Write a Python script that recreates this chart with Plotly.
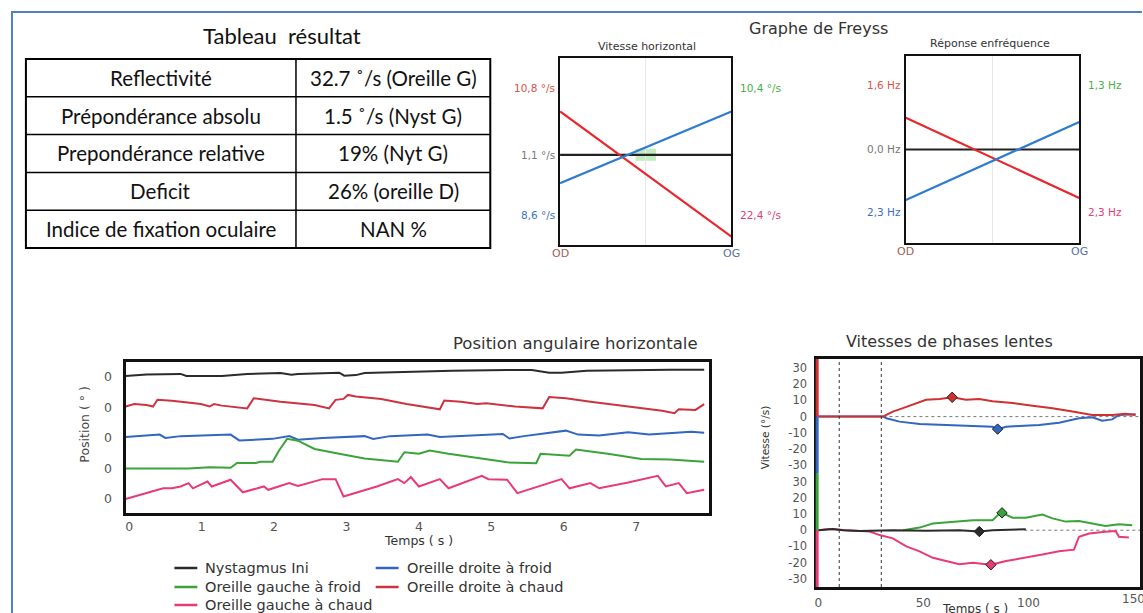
import numpy as np
import plotly.graph_objects as go

W, H = 1143, 613
def X(p):
    return p / W
def Y(p):
    return 1 - p / H

# ---------------- data ----------------
table_title = "Tableau  résultat"
table_labels = ["Reflectivité", "Prépondérance absolu", "Prepondérance relative",
                "Deficit", "Indice de fixation oculaire"]
table_values = ["32.7 ˚/s (Oreille G)", "1.5 ˚/s (Nyst G)", "19% (Nyt G)",
                "26% (oreille D)", "NAN %"]

freyss_title = "Graphe de Freyss"
freyss_x = [0, 1]
freyss_xlabels = ["OD", "OG"]

vh_title = "Vitesse horizontal"
vh_red = [71.4, 4.5]
vh_blue = [33.0, 71.4]
vh_black = [48.2, 48.2]
vh_left_labels = ["10,8 °/s", "1,1 °/s", "8,6 °/s"]
vh_left_pos = [84, 48.2, 16]
vh_right_labels = ["10,4 °/s", "22,4 °/s"]
vh_right_pos = [84, 16]

rf_title = "Réponse enfréquence"
rf_red = [67.0, 24.1]
rf_blue = [23.0, 64.7]
rf_black = [50, 50]
rf_left_labels = ["1,6 Hz", "0,0 Hz", "2,3 Hz"]
rf_left_pos = [84.5, 50, 16.6]
rf_right_labels = ["1,3 Hz", "2,3 Hz"]
rf_right_pos = [84.5, 16.6]

# Position angulaire horizontale (time in s, value relative to each trace's zero)
pos_title = "Position angulaire horizontale"
pos_xticks = [0, 1, 2, 3, 4, 5, 6, 7]
nyst_t = [-0.05, 0.24, 0.71, 0.79, 1.28, 1.63, 2.09, 2.24, 2.33, 2.90, 2.97, 3.13, 3.25,
          3.83, 4.46, 5.22, 5.56, 5.80, 5.97, 6.32, 6.78, 7.47, 7.94]
nyst_v = [0.03, 0.08, 0.10, 0.03, 0.03, 0.10, 0.13, 0.07, 0.10, 0.14, 0.04, 0.06, 0.13,
          0.17, 0.20, 0.23, 0.23, 0.14, 0.14, 0.20, 0.22, 0.24, 0.24]
odc_t = [-0.05, 0.07, 0.24, 0.33, 0.39, 0.59, 0.99, 1.11, 1.17, 1.28, 1.63, 1.72, 2.09, 2.33,
         2.56, 2.76, 2.85, 2.96, 3.02, 3.13, 3.48, 3.83, 4.18, 4.29, 4.35, 4.58, 4.81, 4.93,
         5.33, 5.62, 5.71, 5.80, 6.03, 6.37, 6.89, 7.36, 7.53, 7.59, 7.82, 7.94]
odc_v = [0.03, 0.11, 0.08, 0.03, 0.25, 0.22, 0.11, 0.03, 0.11, 0.06, -0.03, 0.30, 0.19, 0.14,
         0.08, -0.03, 0.25, 0.28, 0.41, 0.36, 0.28, 0.11, -0.03, -0.06, 0.23, 0.19, 0.11, 0.14,
         0.03, -0.01, -0.03, 0.34, 0.30, 0.19, 0.03, -0.11, -0.19, -0.06, -0.08, 0.11]
odf_t = [-0.05, 0.24, 0.42, 0.50, 0.71, 1.40, 1.52, 1.98, 2.21, 2.33, 2.67, 3.25, 3.37, 3.60,
         4.12, 4.29, 5.16, 5.25, 5.45, 6.03, 6.20, 6.49, 6.89, 7.18, 7.76, 7.94]
odf_v = [0.03, 0.08, 0.11, 0.0, 0.06, 0.11, -0.08, -0.03, 0.06, -0.06, 0.0, 0.06, -0.03, 0.06,
         0.11, 0.03, 0.13, -0.02, 0.06, 0.24, 0.11, 0.08, 0.19, 0.11, 0.20, 0.17]
ogf_t = [-0.05, 0.82, 1.11, 1.40, 1.49, 1.75, 1.81, 1.98, 2.07, 2.18, 2.33, 2.56, 2.90, 3.25,
         3.71, 3.80, 4.00, 4.15, 4.41, 4.87, 5.22, 5.62, 5.68, 6.08, 6.17, 6.61, 7.07, 7.47, 7.94]
ogf_v = [0.0, 0.0, 0.04, 0.02, 0.18, 0.18, 0.22, 0.22, 0.59, 0.97, 0.91, 0.64, 0.48, 0.33,
         0.22, 0.53, 0.48, 0.59, 0.48, 0.31, 0.20, 0.17, 0.48, 0.42, 0.62, 0.48, 0.31, 0.29, 0.22]
ogc_t = [-0.05, 0.24, 0.47, 0.59, 0.71, 0.82, 0.88, 1.08, 1.14, 1.40, 1.57, 1.86, 1.92, 2.21,
         2.33, 2.67, 2.85, 2.96, 3.42, 3.71, 3.80, 3.89, 4.00, 4.29, 4.41, 4.87, 4.96, 5.22,
         5.36, 5.97, 6.08, 6.37, 6.49, 6.89, 7.30, 7.41, 7.59, 7.70, 7.94]
ogc_v = [0.0, 0.19, 0.35, 0.35, 0.41, 0.52, 0.35, 0.57, 0.41, 0.63, 0.22, 0.41, 0.30, 0.52,
         0.43, 0.65, 0.65, 0.08, 0.41, 0.65, 0.52, 0.72, 0.41, 0.65, 0.35, 0.76, 0.65, 0.63,
         0.19, 0.65, 0.35, 0.52, 0.35, 0.54, 0.76, 0.41, 0.52, 0.19, 0.30]

# Vitesses de phases lentes (time in s, velocity in °/s)
vit_title = "Vitesses de phases lentes"
vit_xticks = [0, 50, 100, 150]
vit_yticks = [-30, -20, -10, 0, 10, 20, 30]
vodc_t = [0, 31, 32.4, 35.5, 40.3, 46.6, 51.3, 57.7, 63.7, 70.3, 76.6, 82.9, 92.4, 101.9,
          111.4, 120.9, 130.3, 139.8, 146.1, 150.9]
vodc_v = [0, 0, 1, 3.1, 5.2, 8.4, 10.4, 10.9, 11.9, 10.4, 10.9, 9.4, 8.4, 6.7, 5.2, 3.1,
          1, 1, 1.7, 1]
vodf_t = [0, 31, 32.4, 38.7, 48.2, 60.8, 73.5, 82.9, 85.3, 89.3, 95.6, 105.1, 114.5, 124,
          130.3, 135, 139.8, 143, 150.9]
vodf_v = [0, 0, -1, -3.1, -4.6, -5.2, -5.8, -6.3, -7.7, -6.3, -5.8, -5.2, -3.8, -1, -0.4,
          -2.5, -1.7, 1, 1.5]
vogf_t = [40.3, 48.2, 54.5, 60.8, 67.1, 73.5, 82.9, 86.1, 87.4, 92.4, 98.7, 106.6, 111.4,
          117.7, 124, 130.3, 136.6, 143, 149.3]
vogf_v = [0, 1.6, 4.1, 4.7, 5.1, 6.1, 6.1, 10.1, 10.7, 7.7, 7.7, 9.7, 7.3, 5.3, 5.7, 4.1,
          2.6, 3.7, 3]
vnyst_t = [0, 3.9, 7, 11.8, 19.7, 35.5, 51.3, 67.1, 76.6, 82.9, 92.4, 98.7]
vnyst_v = [0, 0.5, 0.8, 0, -0.5, 0, -0.3, 0, -0.8, 0, 0.5, 0.6]
vogc_t = [0, 5.5, 13.4, 24.5, 29.2, 35.5, 41.9, 48.2, 54.5, 60.8, 67.1, 73.5, 82.1, 89.3,
          98.7, 106.6, 114.5, 121.6, 124, 128.8, 136.6, 141.4, 143, 147.7]
vogc_v = [0, 0.8, 0, -0.8, -3, -5, -10, -13, -17, -19, -21, -20, -21.3, -19, -17, -15, -13,
          -12, -4, -2, -1, -0.5, -4, -4.5]
vit_marks_t = [10, 30]

legend_names = ["Nystagmus Ini", "Oreille droite à froid", "Oreille gauche à froid",
                "Oreille droite à chaud", "Oreille gauche à chaud"]

# ---------------- styles ----------------
C_NYST = "#2b2b2b"
C_ODF = "#3366c0"
C_OGF = "#3aa33a"
C_ODC = "#cc3340"
C_OGC = "#ea3a72"
FONT = "DejaVu Sans"
POS_STEP = 1.0          # spacing between trace baselines
VIT_UP = 70             # offset of the upper panel of the velocity chart

fig = go.Figure()

# ---- Freyss: vitesse horizontale (x, y) ----
for ys, c in [(vh_black, "#222"), (vh_red, "#e8262b"), (vh_blue, "#2f7bd0")]:
    fig.add_trace(go.Scatter(x=freyss_x, y=ys, mode="lines", line=dict(color=c, width=2.2),
                             xaxis="x", yaxis="y", showlegend=False, hoverinfo="skip"))
# ---- Freyss: réponse en fréquence (x2, y2) ----
for ys, c in [(rf_black, "#222"), (rf_red, "#e8262b"), (rf_blue, "#2f7bd0")]:
    fig.add_trace(go.Scatter(x=freyss_x, y=ys, mode="lines", line=dict(color=c, width=2.2),
                             xaxis="x2", yaxis="y2", showlegend=False, hoverinfo="skip"))

# ---- Position angulaire (x3, y3) ----
pos_series = [(nyst_t, nyst_v, C_NYST, 4), (odc_t, odc_v, C_ODC, 3), (odf_t, odf_v, C_ODF, 2),
              (ogf_t, ogf_v, C_OGF, 1), (ogc_t, ogc_v, C_OGC, 0)]
for t, v, c, k in pos_series:
    fig.add_trace(go.Scatter(x=t, y=np.array(v) + k * POS_STEP, mode="lines",
                             line=dict(color=c, width=2), xaxis="x3", yaxis="y3",
                             showlegend=False, hoverinfo="skip"))

# ---- Vitesses de phases lentes (x4, y4) ----
vit_series = [(vodf_t, vodf_v, C_ODF, VIT_UP, "min"), (vodc_t, vodc_v, "#d03030", VIT_UP, "max"),
              (vogf_t, vogf_v, C_OGF, 0, "max"), (vogc_t, vogc_v, C_OGC, 0, "min"),
              (vnyst_t, vnyst_v, C_NYST, 0, "min")]
for t, v, c, off, kind in vit_series:
    va = np.array(v)
    fig.add_trace(go.Scatter(x=t, y=va + off, mode="lines", line=dict(color=c, width=2),
                             xaxis="x4", yaxis="y4", showlegend=False, hoverinfo="skip"))
    i = int(np.argmax(va)) if kind == "max" else int(np.argmin(va))
    fig.add_trace(go.Scatter(x=[t[i]], y=[va[i] + off], mode="markers",
                             marker=dict(symbol="diamond", size=8, color=c,
                                         line=dict(color="#202020", width=1)),
                             xaxis="x4", yaxis="y4", showlegend=False, hoverinfo="skip"))

shapes = []
annotations = []

def ann(text, x, y, size=12, color="#222", xanchor="center", yanchor="middle",
        family=FONT, textangle=0, xref="paper", yref="paper", **kw):
    if xref == "paper":
        x = X(x)
    if yref == "paper":
        y = Y(y)
    annotations.append(dict(text=text, x=x, y=y, xref=xref, yref=yref, showarrow=False,
                            xanchor=xanchor, yanchor=yanchor, textangle=textangle,
                            font=dict(family=family, size=size, color=color), **kw))

def pline(x0, y0, x1, y1, color="black", width=2, dash=None, layer="above"):
    shapes.append(dict(type="line", xref="paper", yref="paper", x0=X(x0), y0=Y(y0),
                       x1=X(x1), y1=Y(y1), layer=layer,
                       line=dict(color=color, width=width, dash=dash)))

# ---- frame ----
pline(8, 12, 1143, 12, color="#4f81bd", width=2)
pline(9, 12, 9, 613, color="#4f81bd", width=2)

# ---- table ----
TL, TR, TD, TT = 23, 489, 294, 59
row_h = 37.8
ann(table_title, 280, 36, size=22, family="Lato", color="#111")
shapes.append(dict(type="rect", xref="paper", yref="paper", x0=X(TL), x1=X(TR), y0=Y(TT),
                   y1=Y(TT + row_h * len(table_labels)), line=dict(color="black", width=2)))
pline(TD, TT, TD, TT + row_h * len(table_labels), width=1.5)
for i, (lab, val) in enumerate(zip(table_labels, table_values)):
    if i > 0:
        pline(TL, TT + row_h * i, TR, TT + row_h * i, width=1.5)
    yc = TT + row_h * (i + 0.5)
    ann(lab, (TL + TD) / 2, yc, size=20.5, family="Lato", color="#111")
    ann(val, (TD + TR) / 2, yc, size=20.5, family="Lato", color="#111")

# ---- Freyss annotations ----
ann(freyss_title, 818, 29, size=16, color="#333")
ann(vh_title, 646, 46, size=11, color="#333")
ann(rf_title, 990, 44, size=11, color="#333")
left_cols = ["#e0504a", "#777", "#3a6fc4"]
right_cols = ["#4aae4a", "#e0407a"]
for xa, ya, ll, lp, rl, rp in [("x", "y", vh_left_labels, vh_left_pos, vh_right_labels, vh_right_pos),
                                ("x2", "y2", rf_left_labels, rf_left_pos, rf_right_labels, rf_right_pos)]:
    for lab, p, c in zip(ll, lp, left_cols):
        ann(lab, 0, p, size=10.5, color=c, xanchor="right", xref=xa, yref=ya, xshift=-3)
    for lab, p, c in zip(rl, rp, right_cols):
        ann(lab, 1, p, size=10.5, color=c, xanchor="left", xref=xa, yref=ya, xshift=7)
    for xv, lab, c in zip(freyss_x, freyss_xlabels, ["#a0605a", "#5a70a0"]):
        ann(lab, xv, -0.045, size=11, color=c, xref=xa, yref=ya + " domain", yanchor="middle")
shapes.append(dict(type="rect", xref="x", yref="y", x0=0.44, x1=0.56, y0=45, y1=51.5,
                   fillcolor="rgba(120,210,120,0.45)", line=dict(width=0), layer="below"))

# ---- Position chart annotations ----
ann(pos_title, 575, 343, size=16.5, color="#333")
ann("Temps ( s )", 417, 540, size=12.5, color="#333")
ann("Position ( ° )", 81, 424, size=12.5, color="#444", textangle=-90)
leg_rows = [568, 587, 605]
leg_layout = [(0, 0), (1, 0), (0, 1), (1, 1), (0, 2)]
leg_cols = [C_NYST, C_ODF, C_OGF, C_ODC, C_OGC]
for name, (col, row), c in zip(legend_names, leg_layout, leg_cols):
    x0 = 172 if col == 0 else 374
    yy = leg_rows[row]
    pline(x0, yy, x0 + 23, yy, color=c, width=2.5)
    ann(name, x0 + 29, yy, size=14.5, color="#333", xanchor="left")

# ---- Vitesses annotations ----
ann(vit_title, 950, 341, size=16, color="#333")
ann("Temps ( s )", 975, 609, size=12, color="#333")
ann("Vitesse (°/s)", 765, 437, size=10.5, color="#333", textangle=-90)
ann(str(vit_xticks[-1]), vit_xticks[-1], 0, size=12, color="#555", xref="x4",
    yref="y4 domain", yanchor="top", yshift=-3)
for tm in vit_marks_t:
    shapes.append(dict(type="line", xref="x4", yref="y4 domain", x0=tm, x1=tm, y0=0, y1=1,
                       line=dict(color="#333", width=1, dash="dot")))
shapes.append(dict(type="line", xref="x4", yref="y4", x0=31, x1=153, y0=VIT_UP, y1=VIT_UP,
                   line=dict(color="#777", width=1, dash="dot"), layer="below"))
shapes.append(dict(type="line", xref="x4", yref="y4", x0=98, x1=153, y0=0, y1=0,
                   line=dict(color="#777", width=1, dash="dot"), layer="below"))
for y0, y1, c in [(VIT_UP, 105.5, "#d03030"), (35, VIT_UP, C_ODF), (0, 35, C_OGF), (-35, 0, C_OGC)]:
    shapes.append(dict(type="line", xref="x4 domain", yref="y4", x0=0, x1=0, y0=y0, y1=y1,
                       line=dict(color=c, width=3), layer="above"))

vit_tickvals = list(vit_yticks) + [v + VIT_UP for v in vit_yticks]
vit_ticktext = [str(v) for v in vit_yticks] * 2

axis_common = dict(showgrid=False, zeroline=False, showline=True, mirror=True,
                   linecolor="#111", fixedrange=True)

fig.update_layout(
    width=W, height=613, autosize=False,
    margin=dict(l=0, r=0, t=0, b=0),
    paper_bgcolor="white", plot_bgcolor="white",
    showlegend=False,
    xaxis=dict(domain=[X(559), X(731)], range=[0, 1], anchor="y", tickvals=[0.5],
               showticklabels=False, **{**axis_common, "showgrid": True},
               gridcolor="#e8e8e8", linewidth=2),
    yaxis=dict(domain=[Y(245), Y(58)], range=[0, 100], anchor="x", showticklabels=False,
               **axis_common, linewidth=2),
    xaxis2=dict(domain=[X(906), X(1080)], range=[0, 1], anchor="y2", tickvals=[0.5],
                showticklabels=False, **{**axis_common, "showgrid": True},
                gridcolor="#e8e8e8", linewidth=2),
    yaxis2=dict(domain=[Y(243), Y(56)], range=[0, 100], anchor="x2", showticklabels=False,
                **axis_common, linewidth=2),
    xaxis3=dict(domain=[X(123), X(708)], range=[-0.05, 8.0], anchor="y3", tickvals=pos_xticks,
                tickfont=dict(family=FONT, size=12.5, color="#555"), ticks="",
                ticklabelstandoff=0, **axis_common, linewidth=3),
    yaxis3=dict(domain=[Y(513), Y(362)], range=[-0.46, 4.49], anchor="x3",
                tickvals=[0, 1, 2, 3, 4], ticktext=["0"] * 5, ticks="", ticklabelstandoff=8,
                tickfont=dict(family=FONT, size=12.5, color="#555"), **axis_common, linewidth=3),
    xaxis4=dict(domain=[X(817), X(1141)], range=[-0.5, 153], anchor="y4",
                tickvals=vit_xticks[:-1],
                tickfont=dict(family=FONT, size=12, color="#555"), ticks="",
                ticklabelstandoff=3, **axis_common, linewidth=2.5),
    yaxis4=dict(domain=[Y(587), Y(359)], range=[-35, 105.5], anchor="x4",
                tickvals=vit_tickvals, ticktext=vit_ticktext, ticks="", ticklabelstandoff=5,
                tickfont=dict(family=FONT, size=11.5, color="#555"), **axis_common, linewidth=2.5),
    shapes=shapes,
    annotations=annotations,
)

fig.write_html("out.html")
